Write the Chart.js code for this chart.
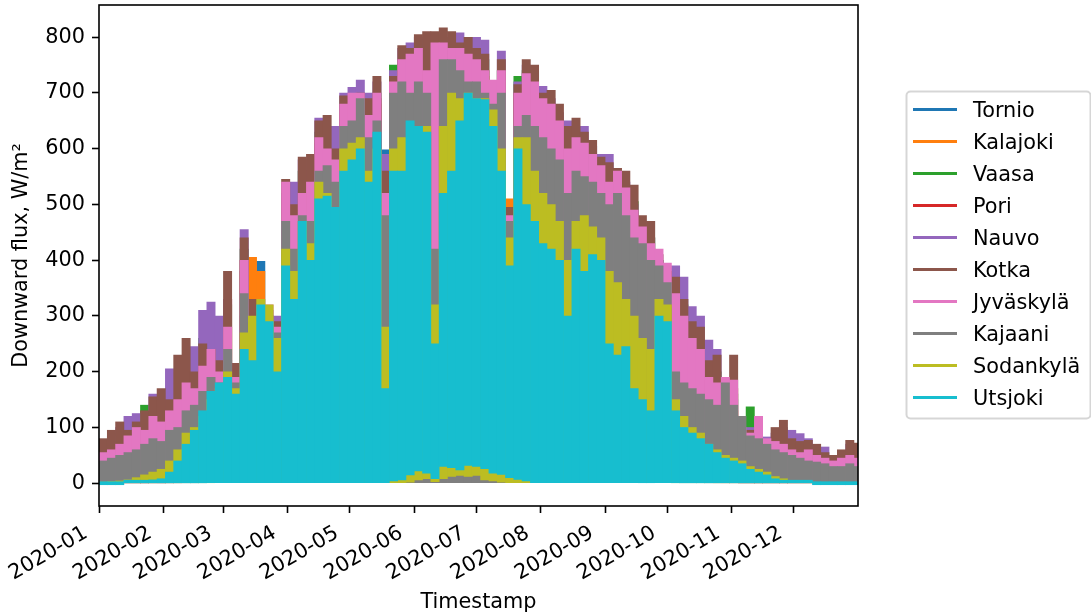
<!DOCTYPE html>
<html>
<head>
<meta charset="utf-8">
<script src="https://cdn.jsdelivr.net/npm/chart.js@4.4.0/dist/chart.umd.min.js"></script>
<style>
  html, body { margin: 0; padding: 0; background: #fff; }
  #wrap { width: 1091px; height: 616px; }
</style>
</head>
<body>
<div id="wrap"><canvas id="fluxChart" width="1091" height="616"></canvas></div>
<script>
// Downward shortwave flux in 2020, W/m2.
// One value per 4-day block from 2020-01-01: the daily peak typical for that block.
const blockDays = 4;

const tornio = [
  5, 8, 10, 15, 20, 25, 35, 40, 60, 80, 110, 120, 150, 180, 190,
  220, 180, 300, 310, 398, 300, 250, 460, 400, 480, 450, 560, 540, 520, 620, 630,
  640, 600, 650, 598, 640, 660, 620, 660, 650, 400, 680, 700, 700, 710, 700,
  690, 660, 640, 430, 640, 640, 600, 580, 560, 520, 460, 520, 520, 500, 480,
  470, 450, 420, 380, 360, 330, 340, 320, 170, 140, 120, 100, 80, 70, 60,
  50, 45, 35, 70, 25, 15, 10, 6, 4, 3, 2, 2, 1, 1, 1, 1
];
const kalajoki = [
  20, 30, 40, 50, 60, 70, 90, 100, 120, 150, 180, 160, 200, 245, 200,
  280, 190, 380, 405, 380, 300, 270, 500, 450, 520, 500, 600, 600, 570, 660, 660,
  680, 540, 680, 520, 700, 740, 730, 750, 740, 600, 770, 760, 750, 760, 740,
  730, 690, 720, 510, 690, 700, 690, 660, 650, 620, 580, 600, 580, 560, 540,
  520, 530, 500, 460, 440, 400, 380, 350, 300, 260, 230, 200, 170, 150, 140,
  130, 90, 80, 70, 60, 50, 45, 40, 35, 35, 30, 30, 25, 25, 30, 25
];
const vaasa = [
  60, 75, 90, 100, 110, 140, 140, 150, 170, 200, 220, 210, 260, 280, 250,
  320, 200, 420, 320, 300, 300, 280, 520, 500, 560, 540, 630, 620, 600, 680, 680,
  700, 640, 700, 560, 750, 760, 760, 780, 780, 700, 790, 790, 780, 780, 770,
  760, 700, 740, 480, 730, 740, 720, 690, 680, 650, 620, 630, 610, 590, 570,
  560, 540, 530, 505, 460, 440, 400, 370, 360, 320, 280, 260, 220, 200, 170,
  160, 110, 137, 90, 75, 80, 90, 70, 65, 60, 55, 50, 40, 45, 55, 50
];
const pori = [
  50, 70, 80, 90, 100, 100, 130, 140, 160, 190, 210, 200, 240, 250, 210,
  330, 190, 400, 290, 270, 280, 260, 500, 480, 540, 530, 610, 600, 580, 660, 660,
  680, 650, 690, 540, 720, 750, 750, 770, 770, 740, 780, 770, 760, 760, 750,
  740, 690, 720, 470, 700, 720, 700, 680, 660, 640, 600, 610, 600, 570, 560,
  540, 520, 510, 480, 440, 420, 380, 360, 340, 300, 270, 250, 200, 190, 150,
  170, 90, 90, 80, 65, 70, 80, 65, 60, 55, 50, 45, 35, 40, 50, 45
];
const nauvo = [
  70, 85, 100, 120, 125, 110, 160, 140, 205, 190, 210, 245, 310, 325, 300,
  330, 200, 455, 300, 280, 310, 300, 520, 540, 580, 560, 655, 640, 640, 700, 710,
  723, 700, 720, 590, 740, 780, 790, 800, 795, 770, 800, 790, 808, 790, 800,
  795, 700, 775, 490, 720, 750, 740, 712, 690, 665, 650, 640, 640, 605, 590,
  590, 540, 540, 500, 470, 440, 400, 385, 390, 370, 317, 300, 257, 240, 170,
  150, 90, 100, 100, 83, 90, 100, 95, 89, 80, 60, 65, 45, 55, 70, 60
];
const kotka = [
  80, 95, 110, 95, 110, 130, 155, 170, 150, 230, 260, 200, 250, 240, 220,
  380, 215, 440, 330, 300, 300, 290, 545, 500, 585, 590, 650, 660, 600, 695, 690,
  700, 690, 730, 560, 730, 785, 780, 805, 810, 810, 817, 810, 790, 800, 780,
  770, 715, 760, 495, 715, 760, 750, 700, 705, 680, 640, 655, 630, 615, 585,
  575, 565, 560, 535, 480, 470, 410, 380, 370, 330, 290, 280, 220, 230, 160,
  230, 95, 95, 90, 75, 100, 113, 80, 75, 77, 70, 55, 50, 60, 77, 72
];
const jyvaskyla = [
  55, 60, 70, 85, 100, 95, 120, 110, 130, 150, 180, 170, 210, 240, 200,
  280, 190, 400, 280, 250, 320, 280, 540, 480, 520, 540, 620, 600, 580, 680, 700,
  700, 660, 700, 520, 720, 760, 770, 780, 740, 790, 790, 780, 780, 770, 760,
  740, 723, 740, 480, 700, 735, 720, 690, 680, 650, 600, 620, 610, 590, 570,
  540, 560, 530, 490, 460, 430, 420, 395, 340, 300, 260, 240, 190, 180, 190,
  185, 100, 90, 120, 80, 75, 70, 60, 55, 60, 50, 45, 40, 45, 50, 45
];
const kajaani = [
  40, 45, 50, 55, 60, 70, 80, 75, 95, 100, 130, 140, 165, 190, 180,
  240, 180, 340, 290, 290, 300, 270, 470, 420, 480, 470, 560, 570, 540, 640, 650,
  690, 620, 650, 480, 700, 720, 700, 720, 700, 420, 760, 760, 740, 720, 720,
  700, 680, 700, 470, 640, 660, 640, 620, 600, 580, 520, 560, 550, 540, 520,
  500, 520, 480, 440, 430, 400, 390, 360, 200, 180, 170, 160, 150, 140, 180,
  140, 120, 85, 80, 70, 60, 55, 50, 45, 40, 38, 35, 30, 30, 35, 30
];
const sodankyla = [
  2, 3, 4, 6, 10, 15, 20, 25, 40, 60, 90, 100, 120, 150, 170,
  200, 170, 270, 300, 330, 320, 260, 420, 380, 470, 430, 540, 520, 490, 600, 610,
  620, 560, 600, 280, 600, 620, 560, 600, 640, 320, 640, 700, 690, 700, 690,
  690, 670, 600, 440, 620, 620, 560, 520, 500, 470, 400, 470, 480, 460, 440,
  380, 360, 330, 300, 260, 240, 330, 320, 150, 120, 100, 90, 70, 60, 50,
  45, 40, 30, 25, 20, 12, 8, 5, 3, 2, 1, 1, 0, 0, 0, 0
];
const utsjoki = [
  0, 0, 0, 1, 2, 4, 6, 8, 20, 40, 70, 95, 130, 165, 180,
  190, 160, 240, 220, 320, 290, 200, 390, 330, 470, 400, 510, 515, 495, 560, 580,
  600, 540, 630, 170, 560, 560, 650, 640, 630, 250, 520, 560, 650, 700, 690,
  688, 640, 560, 390, 600, 500, 470, 430, 420, 400, 300, 420, 380, 410, 400,
  250, 230, 245, 170, 150, 130, 300, 290, 130, 100, 90, 80, 70, 55, 45,
  40, 35, 25, 20, 15, 8, 4, 2, 1, 1, 0, 0, 0, 0, 0, 0
];

// midnight sun: lowest flux of the day, blocks from day 140 on
const nightFromDay = 140;
const utsjokiNight = [4, 6, 15, 22, 18, 8, 30, 28, 24, 32, 30, 26, 18, 16, 10, 7, 4];
const sodankylaNight = [0, 0, 2, 6, 8, 3, 8, 12, 14, 12, 14, 6, 4, 2, 0, 0, 0];

const stations = ['Tornio', 'Kalajoki', 'Vaasa', 'Pori', 'Nauvo', 'Kotka',
  'Jyväskylä', 'Kajaani', 'Sodankylä', 'Utsjoki'];
const peaks = [tornio, kalajoki, vaasa, pori, nauvo, kotka, jyvaskyla, kajaani, sodankyla, utsjoki];
const nightLows = { 'Sodankylä': sodankylaNight, 'Utsjoki': utsjokiNight };

const monthStartDays = [0, 31, 60, 91, 121, 152, 182, 213, 244, 274, 305, 335];
const monthLabels = ['2020-01', '2020-02', '2020-03', '2020-04', '2020-05', '2020-06',
  '2020-07', '2020-08', '2020-09', '2020-10', '2020-11', '2020-12'];
const yTicks = [0, 100, 200, 300, 400, 500, 600, 700, 800];
const lastHour = 8783;

const colors = ['#1f77b4', '#ff7f0e', '#2ca02c', '#d62728', '#9467bd',
  '#8c564b', '#e377c2', '#7f7f7f', '#bcbd22', '#17becf'];

function toPoints(vals, lows) {
  const firstBlock = nightFromDay / blockDays;
  return vals.map((v, i) => {
    const low = lows ? (lows[i - firstBlock] || 0) : 0;
    return { x: i * blockDays + blockDays / 2, y: low > 0 ? [low, v] : v };
  });
}

const topValue = Math.max(...peaks.map(p => Math.max(...p)));

Chart.defaults.font.family = "'DejaVu Sans'";
Chart.defaults.font.size = 20.8;
Chart.defaults.color = '#000';

const axisFrame = {
  id: 'axisFrame',
  afterDatasetsDraw(chart) {
    const { ctx, chartArea: a } = chart;
    ctx.save();
    ctx.strokeStyle = '#000';
    ctx.lineWidth = 1.6;
    ctx.strokeRect(a.left, a.top, a.right - a.left, a.bottom - a.top);
    ctx.restore();
  }
};

const boxLegend = {
  id: 'boxLegend',
  afterDraw(chart) {
    const ctx = chart.ctx;
    const x0 = 906.5, y0 = 91.5, w = 184, h = 327, r = 4;
    ctx.save();
    ctx.beginPath();
    ctx.moveTo(x0 + r, y0);
    ctx.arcTo(x0 + w, y0, x0 + w, y0 + h, r);
    ctx.arcTo(x0 + w, y0 + h, x0, y0 + h, r);
    ctx.arcTo(x0, y0 + h, x0, y0, r);
    ctx.arcTo(x0, y0, x0 + w, y0, r);
    ctx.closePath();
    ctx.fillStyle = 'rgba(255,255,255,0.8)';
    ctx.fill();
    ctx.strokeStyle = 'rgba(204,204,204,0.8)';
    ctx.lineWidth = 2;
    ctx.stroke();

    ctx.font = "20.8px 'DejaVu Sans'";
    ctx.textBaseline = 'alphabetic';
    chart.data.datasets.forEach((ds, k) => {
      const y = 109.5 + 32 * k;
      ctx.strokeStyle = ds.backgroundColor;
      ctx.lineWidth = 3;
      ctx.beginPath();
      ctx.moveTo(913, y);
      ctx.lineTo(957, y);
      ctx.stroke();
      ctx.fillStyle = '#000';
      ctx.fillText(ds.label, 973, y + 7.5);
    });
    ctx.restore();
  }
};

new Chart(document.getElementById('fluxChart'), {
  type: 'bar',
  data: {
    datasets: stations.map((name, k) => ({
      label: name,
      data: toPoints(peaks[k], nightLows[name]),
      backgroundColor: colors[k],
      borderWidth: 0,
      grouped: false,
      categoryPercentage: 1,
      barPercentage: 1,
      order: stations.length - 1 - k,
      minBarLength: name === 'Utsjoki' ? 3 : 0
    }))
  },
  options: {
    responsive: false,
    devicePixelRatio: 1,
    animation: false,
    layout: { padding: { top: 5, right: 233, bottom: 0, left: 0 } },
    plugins: { legend: { display: false }, tooltip: { enabled: false } },
    scales: {
      x: {
        type: 'linear',
        min: 0,
        max: lastHour / 24,
        offset: false,
        grid: { offset: false, drawOnChartArea: false, tickLength: 7, tickWidth: 1.6, tickColor: '#000' },
        border: { display: false },
        afterBuildTicks: (scale) => { scale.ticks = monthStartDays.map(v => ({ value: v })); },
        afterFit: (scale) => {
          scale.height = 110;
          scale.paddingLeft = 0;
          scale.paddingRight = 0;
        },
        ticks: {
          autoSkip: false,
          minRotation: 30,
          maxRotation: 30,
          padding: 8,
          labelOffset: -13,
          color: '#000',
          callback: (v, i) => monthLabels[i]
        },
        title: { display: true, text: 'Timestamp', color: '#000', padding: { top: 0, bottom: 1 } }
      },
      y: {
        type: 'linear',
        min: -0.05 * topValue,
        max: 1.05 * topValue,
        grid: { drawOnChartArea: false, tickLength: 7, tickWidth: 1.6, tickColor: '#000' },
        border: { display: false },
        afterBuildTicks: (scale) => { scale.ticks = yTicks.map(v => ({ value: v })); },
        afterFit: (scale) => {
          scale.width = 99;
          scale.paddingTop = 0;
          scale.paddingBottom = 0;
        },
        ticks: { padding: 7, color: '#000', callback: (v) => String(v) },
        title: { display: true, text: 'Downward flux, W/m²', color: '#000', padding: { top: 9, bottom: 0 } }
      }
    }
  },
  plugins: [axisFrame, boxLegend]
});
</script>
</body>
</html>
